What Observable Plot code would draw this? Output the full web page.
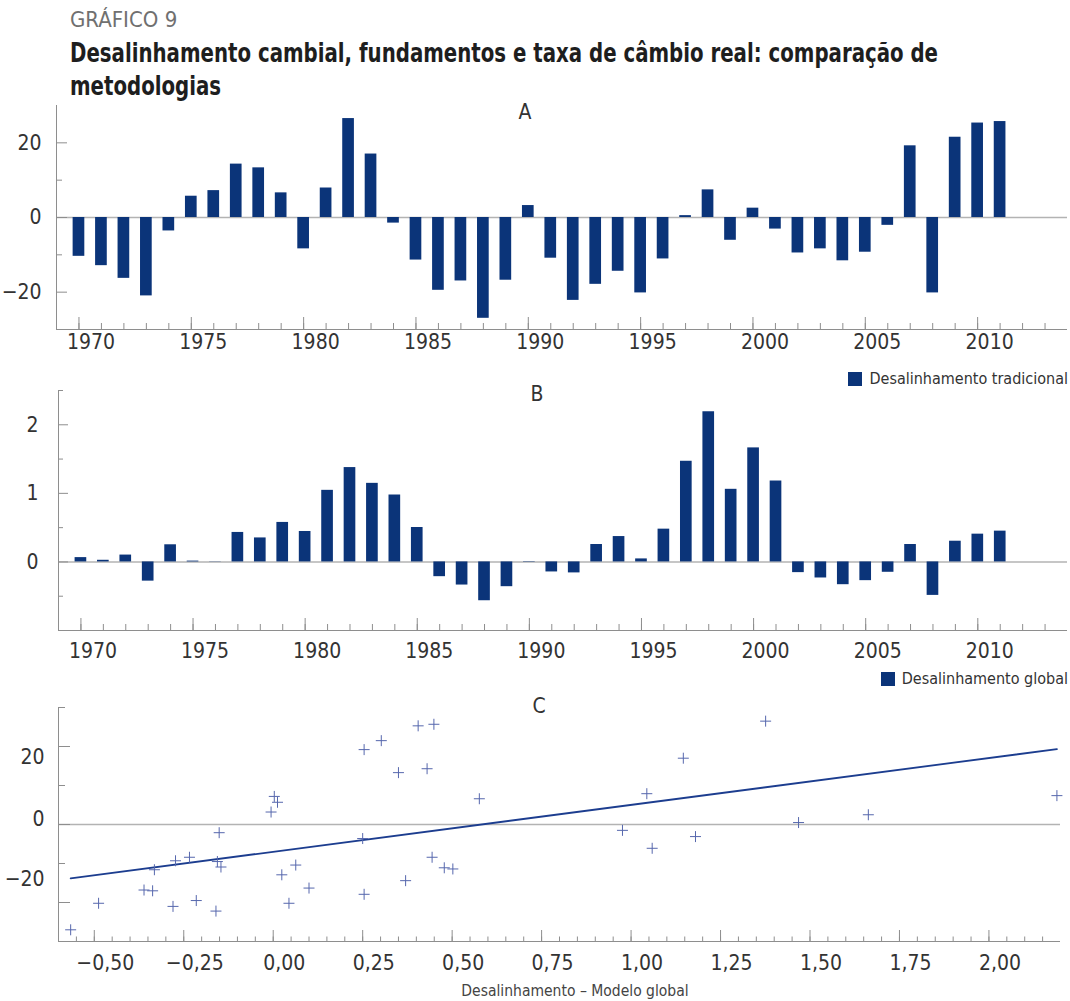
<!DOCTYPE html>
<html lang="pt">
<head>
<meta charset="utf-8">
<script src="https://cdn.jsdelivr.net/npm/d3@7"></script>
<script src="https://cdn.jsdelivr.net/npm/@observablehq/plot@0.6"></script>
<style>
  html,body{margin:0;padding:0;background:#fff;}
  #wrap{position:relative;width:1070px;height:1001px;overflow:hidden;
    font-family:"Liberation Sans Narrow","DejaVu Sans Condensed",Roboto,sans-serif;color:#333;}
  .abs{position:absolute;white-space:nowrap;}
  .slot{position:absolute;left:0;width:1070px;}
  .slot svg{display:block;}
  #kicker{left:70px;top:9px;font-size:22px;line-height:21px;color:#707070;}
  #title{left:70px;top:37px;font-size:26px;font-weight:bold;color:#1e1e1e;line-height:33px;
    transform:scaleX(0.845);transform-origin:0 0;}
  .letter{font-size:21px;line-height:21px;color:#333;transform:translateX(-50%);}
  .legend{right:2px;font-size:16px;line-height:17px;color:#333;display:flex;align-items:center;}
  .legend i{display:inline-block;width:14px;height:14px;background:#0b3479;margin-right:7px;}
  #xlabel{font-size:15.5px;line-height:17px;color:#444;transform:translateX(-50%);left:575px;top:983px;}
</style>
</head>
<body>
<div id="wrap">
  <div id="kicker" class="abs">GRÁFICO 9</div>
  <div id="title" class="abs">Desalinhamento cambial, fundamentos e taxa de câmbio real: comparação de<br>metodologias</div>
  <div id="slotA" class="slot" style="top:95px"></div>
  <div id="slotB" class="slot" style="top:380px"></div>
  <div id="slotC" class="slot" style="top:697px"></div>
  <div class="abs letter" style="left:525px;top:102px">A</div>
  <div class="abs letter" style="left:537px;top:384px">B</div>
  <div class="abs letter" style="left:539px;top:696px">C</div>
  <div class="abs legend" style="top:370px"><i></i>Desalinhamento tradicional</div>
  <div class="abs legend" style="top:670px"><i></i>Desalinhamento global</div>
  <div id="xlabel" class="abs">Desalinhamento – Modelo global</div>
</div>
<script>
// ---------------- data ----------------
const years = [1970,1971,1972,1973,1974,1975,1976,1977,1978,1979,
               1980,1981,1982,1983,1984,1985,1986,1987,1988,1989,
               1990,1991,1992,1993,1994,1995,1996,1997,1998,1999,
               2000,2001,2002,2003,2004,2005,2006,2007,2008,2009,
               2010,2011];
// Painel A: desalinhamento tradicional (%)
const tradicional = [-10.4,-12.9,-16.3,-21.0,-3.6,5.7,7.2,14.3,13.3,6.6,
                     -8.4,7.9,26.5,17.0,-1.5,-11.4,-19.5,-17.0,-27.0,-16.8,
                     3.2,-10.9,-22.2,-17.9,-14.4,-20.2,-11.1,0.5,7.4,-6.1,
                     2.5,-3.1,-9.5,-8.4,-11.6,-9.3,-2.1,19.2,-20.2,21.5,
                     25.3,25.7];
// Painel B: desalinhamento global
const global = [0.063,0.024,0.10,-0.28,0.25,0.012,0.003,0.43,0.35,0.576,
                0.444,1.044,1.376,1.146,0.976,0.502,-0.215,-0.337,-0.566,-0.361,
                -0.006,-0.146,-0.16,0.254,0.37,0.044,0.478,1.468,2.19,1.059,
                1.663,1.18,-0.156,-0.234,-0.332,-0.273,-0.151,0.254,-0.488,0.302,
                0.405,0.449];
const yearTicks = [1970,1975,1980,1985,1990,1995,2000,2005,2010];
const yTicksA = [-20,0,20], yMinorA = [-10,10];
const yTicksB = [0,1,2],    yMinorB = [-0.5,0.5,1.5,2.5];
const xTicksC = [-0.5,-0.25,0,0.25,0.5,0.75,1,1.25,1.5,1.75,2];
const yTicksC = [-20,0,20], yMinorC = [-10,10,30];

// ---------------- style ----------------
const FONT = '"Liberation Sans Narrow","DejaVu Sans Condensed",Roboto,sans-serif';
const NAVY = "#0b3479", AXIS = "#8e8e8e", ZERO = "#b3b3b3", TEXT = "#333";
const LINE = "#1c3d8f", DOT = "#5667ad";
const W = 1070;
const fmtInt = d => d < 0 ? "\u2212" + Math.abs(d) : String(d);
const fmtDec = d => (d < 0 ? "\u2212" : "") + Math.abs(d).toFixed(2).replace(".", ",");
const style = {fontFamily: FONT, fontSize: "21px", color: TEXT, background: "transparent", overflow: "visible"};
const minorYears = d3.range(1970, 2014);

const thinPlus = {
  draw(ctx, size) {
    const r = Math.sqrt(size / Math.PI);
    ctx.moveTo(-r, 0); ctx.lineTo(r, 0);
    ctx.moveTo(0, -r); ctx.lineTo(0, r);
  }
};

function barPanel({values, yDomain, yMajor, yMinor, majorLen, minorLen, height, marginTop, marginBottom, marginLeft, marginRight, yPad, xPad}) {
  const plotW = W - marginLeft - marginRight;
  const plotH = height - marginTop - marginBottom;
  const data = years.map((year, i) => ({year, v: values[i]}));
  return Plot.plot({
    width: W, height, marginTop, marginBottom, marginLeft, marginRight,
    x: {domain: [1969, 2014], axis: null},
    y: {domain: yDomain, axis: null},
    style,
    marks: [
      Plot.ruleY([0], {stroke: ZERO, strokeWidth: 1.5}),
      Plot.rectY(data, {x1: d => d.year - 0.26, x2: d => d.year + 0.26, y1: 0, y2: "v", fill: NAVY}),
      Plot.ruleX([1969], {stroke: AXIS}),
      Plot.ruleY([yDomain[0]], {stroke: AXIS}),
      Plot.ruleX(minorYears, {x: d => d, stroke: AXIS, insetTop: plotH - 6}),
      Plot.ruleX(yearTicks, {x: d => d, stroke: AXIS, insetTop: plotH - 12}),
      Plot.ruleY(yMinor, {y: d => d, stroke: AXIS, insetRight: plotW - minorLen}),
      Plot.ruleY(yMajor, {y: d => d, stroke: AXIS, insetRight: plotW - majorLen}),
      Plot.axisX(yearTicks, {tickSize: 0, tickPadding: xPad, tickFormat: d => String(d), dx: 12, fill: TEXT, label: null}),
      Plot.axisY(yMajor, {tickSize: 0, tickPadding: yPad, tickFormat: fmtInt, fill: TEXT, label: null})
    ]
  });
}

document.getElementById("slotA").append(barPanel({
  values: tradicional, yDomain: [-30, 30], yMajor: yTicksA, yMinor: yMinorA,
  majorLen: 11, minorLen: 6, height: 270, marginTop: 10, marginBottom: 36,
  marginLeft: 56, marginRight: 3, yPad: 15, xPad: 5
}));

document.getElementById("slotB").append(barPanel({
  values: global, yDomain: [-1, 2.5], yMajor: yTicksB, yMinor: yMinorB,
  majorLen: 10, minorLen: 5, height: 290, marginTop: 10, marginBottom: 40,
  marginLeft: 58, marginRight: 3, yPad: 20, xPad: 13
}));

// Panel C: scatter of global (x) vs tradicional (y)
const dataC = years.map((year, i) => ({year, x: global[i], y: tradicional[i]}));
(function () {
  const height = 304, marginTop = 10, marginBottom = 60, marginLeft = 58, marginRight = 10;
  const plotW = W - marginLeft - marginRight, plotH = height - marginTop - marginBottom;
  const minorC = d3.range(-11, 44).map(i => i / 20);
  const yLab = (v, dy) => Plot.axisY([v], {tickSize: 0, tickPadding: 14, tickFormat: fmtInt, dy, fill: TEXT, label: null});
  const svg = Plot.plot({
    width: W, height, marginTop, marginBottom, marginLeft, marginRight,
    x: {domain: [-0.6, 2.2], axis: null},
    y: {domain: [-30, 30], axis: null},
    style,
    marks: [
      Plot.ruleY([0], {stroke: ZERO, strokeWidth: 1.5}),
      Plot.ruleX([-0.6], {stroke: AXIS}),
      Plot.ruleY([-30], {stroke: AXIS}),
      Plot.ruleX(minorC, {x: d => d, stroke: AXIS, insetTop: plotH - 4.5}),
      Plot.ruleX(xTicksC, {x: d => d, stroke: AXIS, insetTop: plotH - 11}),
      Plot.ruleY(yMinorC, {y: d => d, stroke: AXIS, insetRight: plotW - 7}),
      Plot.ruleY(yTicksC, {y: d => d, stroke: AXIS, insetRight: plotW - 12}),
      Plot.linearRegressionY(dataC, {x: "x", y: "y", stroke: LINE, strokeWidth: 1.8, ci: 0}),
      Plot.dot(dataC, {x: "x", y: "y", symbol: thinPlus, r: 5.5, stroke: DOT, strokeWidth: 1, fill: "none"}),
      Plot.axisX(xTicksC, {tickSize: 0, tickPadding: 14, tickFormat: fmtDec, dx: 11, fill: TEXT, label: null}),
      yLab(20, 11), yLab(0, -5), yLab(-20, -23)
    ]
  });
  document.getElementById("slotC").append(svg);
})();
</script>
</body>
</html>
